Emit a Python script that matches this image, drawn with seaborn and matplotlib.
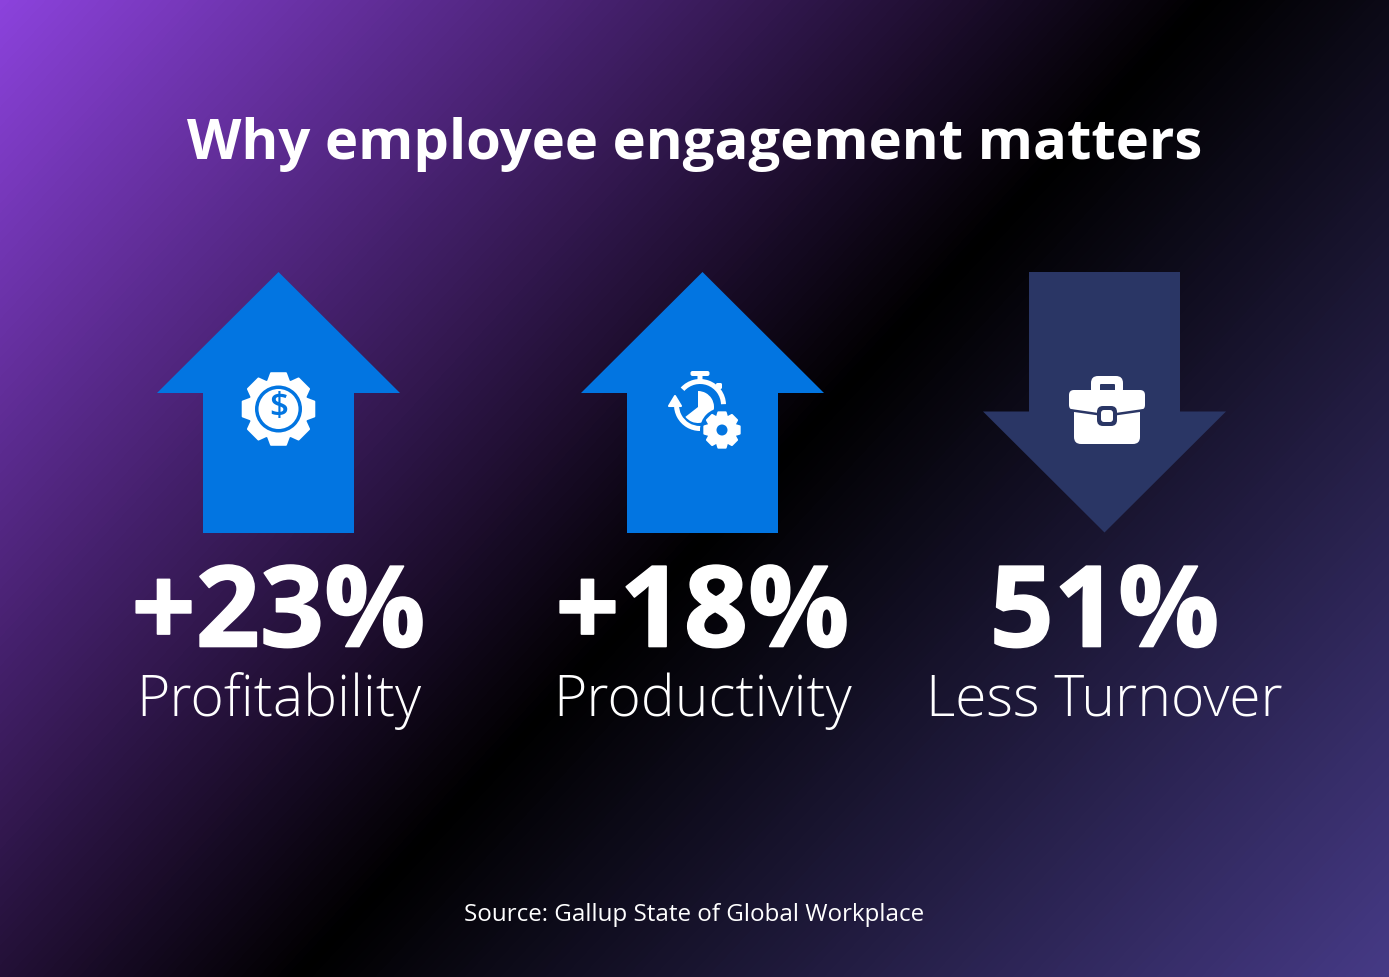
import numpy as np
import pandas as pd
import matplotlib
matplotlib.use('Agg')
import matplotlib.pyplot as plt
import matplotlib.patheffects as pe
from matplotlib.colors import LinearSegmentedColormap
from matplotlib.patches import Circle, FancyBboxPatch, Polygon, Wedge
import seaborn as sns

# chart content
title = "Why employee engagement matters"
source = "Source: Gallup State of Global Workplace"
metrics = ["Profitability", "Productivity", "Less Turnover"]
values = ["+23%", "+18%", "51%"]
directions = ["up", "up", "down"]

# layout, in reference pixels
W, H = 1389, 977
centers = [278.5, 702.5, 1104.5]
ARROW_TOP, ARROW_BOTTOM = 272, 532.5
SHAFT_W, HEAD_W, HEAD_H = 151, 243, 121
BLUE, NAVY = '#0275E1', '#2A3665'
FONT = 'Open Sans'

sns.set_theme(style='white')
plt.rcParams['font.family'] = [FONT, 'DejaVu Sans']

fig = plt.figure(figsize=(W / 100, H / 100), dpi=100)
ax = fig.add_axes([0, 0, 1, 1])

# diagonal background gradient
bg_cmap = LinearSegmentedColormap.from_list(
    'bg', [(0, '#8C42DC'), (0.525, '#000000'), (1, '#463A86')])
xx, yy = np.meshgrid(np.arange(W), np.arange(H))
t = (xx * 0.73 + yy * 0.68) / (W * 0.73 + H * 0.68)
ax.imshow(t, cmap=bg_cmap, vmin=0, vmax=1, extent=(0, W, H, 0), aspect='auto', zorder=0)

# arrow shafts are plain bars, heads are added on top
df = pd.DataFrame({
    'center': centers,
    'metric': metrics,
    'direction': directions,
})
df['shaft_h'] = ARROW_BOTTOM - ARROW_TOP - HEAD_H
df['shaft_start'] = [ARROW_TOP + HEAD_H if d == 'up' else ARROW_TOP for d in directions]
df['color'] = [BLUE if d == 'up' else NAVY for d in directions]

sns.barplot(data=df, x='center', y='shaft_h', hue='metric',
            palette=dict(zip(df['metric'], df['color'])),
            native_scale=True, dodge=False, legend=False, saturation=1,
            width=SHAFT_W / np.diff(centers).min(), linewidth=0,
            bottom=df['shaft_start'].to_numpy()[0], ax=ax, zorder=2)
# barplot only takes one bottom, so move each bar to its own start
for bar, start in zip([p for p in ax.patches], df['shaft_start']):
    bar.set_y(start)

for cx, d, c in zip(centers, directions, df['color']):
    if d == 'up':
        tip, base = ARROW_TOP, ARROW_TOP + HEAD_H
    else:
        tip, base = ARROW_BOTTOM, ARROW_BOTTOM - HEAD_H
    ax.fill([cx - HEAD_W / 2, cx, cx + HEAD_W / 2], [base, tip, base],
            color=c, lw=0, zorder=2)


def gear(cx, cy, r_out, r_in, teeth=8, color='white', zorder=3):
    # outline of a gear with slightly tapered teeth
    pts = []
    step = 2 * np.pi / teeth
    for i in range(teeth):
        a = i * step - np.pi / 2
        for da, r in [(-0.46, r_in), (-0.26, r_out), (0.26, r_out), (0.46, r_in)]:
            pts.append((cx + r * np.cos(a + da * step), cy + r * np.sin(a + da * step)))
    ax.add_patch(Polygon(pts, closed=True, fc=color, ec=color, lw=1.5,
                         joinstyle='round', zorder=zorder))


def rbox(x0, y0, x1, y1, r, color, zorder=3):
    ax.add_patch(FancyBboxPatch((x0 + r, y0 + r), x1 - x0 - 2 * r, y1 - y0 - 2 * r,
                                boxstyle=f'round,pad={r}', fc=color, ec='none', zorder=zorder))


def heavier(width):
    return [pe.withStroke(linewidth=width, foreground='white')]


# profitability icon
cx, cy = 278.5, 409
gear(cx, cy, 36.5, 29.5)
ax.add_patch(Circle((cx, cy), 23.5, fc=BLUE, ec='none', zorder=4))
ax.add_patch(Circle((cx, cy), 20, fc='white', ec='none', zorder=5))
ax.text(cx, cy - 1, '$', color=BLUE, fontsize=24, fontweight='semibold',
        ha='center', va='center', zorder=6)

# productivity icon: stopwatch, circular arrow and small gear
sx, sy = 700, 405
ax.add_patch(Wedge((sx, sy), 26, 222, 358, width=5, fc='white', ec='none', zorder=3))
ax.add_patch(Wedge((sx, sy), 26, 60, 182, width=5, fc='white', ec='none', zorder=3))
ax.add_patch(Wedge((sx - 2, sy + 2), 16, -90, 142, fc='white', ec='none', zorder=3))
rbox(sx - 9.5, 371, sx + 9.5, 376, 2, 'white')
rbox(sx - 2.5, 374, sx + 2.5, 381, 0.5, 'white')
rbox(716, 383, 722, 389, 1.5, 'white')
ax.add_patch(Polygon([(669, 406), (681, 406), (675, 396)], closed=True,
                     fc='white', ec='white', lw=1.5, joinstyle='round', zorder=3))
ax.add_patch(Circle((722, 430), 22, fc=BLUE, ec='none', zorder=4))
gear(722, 430, 18, 14, zorder=5)
ax.add_patch(Circle((722, 430), 5.5, fc=BLUE, ec='none', zorder=6))

# turnover icon: briefcase
rbox(1091, 376, 1123, 396, 7, 'white')
rbox(1100, 384, 1115, 391, 1, NAVY)
rbox(1069, 390, 1145, 410, 5, 'white')
rbox(1074, 405, 1140, 444, 7, 'white')
ax.plot([1069, 1097, 1117, 1145], [410, 414, 414, 410], color=NAVY, lw=1.8, zorder=4)
rbox(1097, 406, 1117, 426, 6, NAVY, zorder=5)
rbox(1101, 410, 1113, 422, 3, 'white', zorder=6)

# text
ax.text(695, 159.5, title, color='white', fontsize=40.5, fontweight='bold',
        ha='center', va='baseline', zorder=7)
for cx, val, label in zip(centers, values, metrics):
    ax.text(cx, 646.5, val, color='white', fontsize=81, fontweight='bold',
            ha='center', va='baseline', zorder=7, path_effects=heavier(1.2))
    ax.text(cx, 716, label, color='white', fontsize=41, fontweight='light',
            ha='center', va='baseline', zorder=7)
ax.text(694.5, 921, source, color='white', fontsize=17.4, ha='center', va='baseline', zorder=7)

ax.set_xlim(0, W)
ax.set_ylim(H, 0)
ax.axis('off')

fig.savefig('out.png', dpi=100)
plt.close(fig)
